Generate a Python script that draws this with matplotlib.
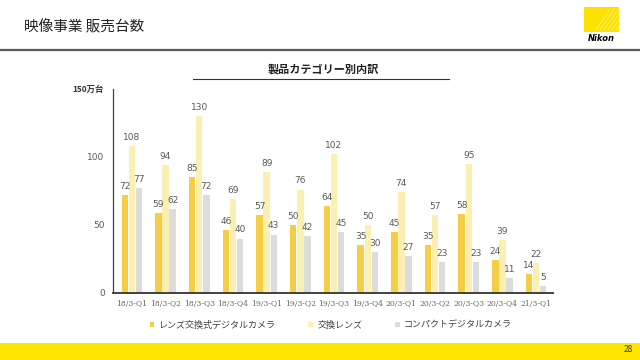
import numpy as np
import matplotlib
matplotlib.use("Agg")
import matplotlib.pyplot as plt
from matplotlib.patches import Rectangle

plt.rcParams['font.family'] = ['Noto Sans CJK JP', 'DejaVu Sans']

# data (万台)
quarters = ['18/3-Q1', '18/3-Q2', '18/3-Q3', '18/3-Q4', '19/3-Q1', '19/3-Q2', '19/3-Q3',
            '19/3-Q4', '20/3-Q1', '20/3-Q2', '20/3-Q3', '20/3-Q4', '21/3-Q1']
ilc = [72, 59, 85, 46, 57, 50, 64, 35, 45, 35, 58, 24, 14]
lenses = [108, 94, 130, 69, 89, 76, 102, 50, 74, 57, 95, 39, 22]
compact = [77, 62, 72, 40, 43, 42, 45, 30, 27, 23, 23, 11, 5]
series_names = ['レンズ交換式デジタルカメラ', '交換レンズ', 'コンパクトデジタルカメラ']
colors = ['#F5CE45', '#FCEFB3', '#DCDCDC']

fig = plt.figure(figsize=(6.4, 3.6), dpi=100)
fig.patch.set_facecolor('white')

# header / footer decorations
fig.text(24 / 640, 1 - 27 / 360, '映像事業 販売台数', fontsize=10.5, color='#222222', va='center', ha='left')
fig.add_artist(plt.Line2D([0, 1], [1 - 49.5 / 360] * 2, color='#5a5a5a', lw=1.6, transform=fig.transFigure))
fig.add_artist(Rectangle((0, 0), 1, 17 / 360, transform=fig.transFigure, color='#FFE600', lw=0))
fig.text(628 / 640, 1 - 350 / 360, '28', fontsize=6, color='#333333', ha='center', va='center')

# logo
logo = Rectangle((584 / 640, 1 - 32 / 360), 35 / 640, 25 / 360, transform=fig.transFigure,
                 color='#FFE100', lw=0)
fig.add_artist(logo)
for k in range(7):
    x0 = 596 + k * 4
    ln = plt.Line2D([x0 / 640, (x0 + 14) / 640], [1 - 30 / 360, 1 - 9 / 360], color='#FFF27A',
                    lw=0.6, transform=fig.transFigure)
    ln.set_clip_path(logo)
    fig.add_artist(ln)
fig.text(601 / 640, 1 - 38.5 / 360, 'Nikon', fontsize=6, color='black', ha='center', va='center',
         fontweight='bold', style='italic', family='DejaVu Sans')

# subtitle
fig.text(323 / 640, 1 - 69 / 360, '製品カテゴリー別内訳', fontsize=8, fontweight='bold', color='#222222',
         ha='center', va='center')
fig.add_artist(plt.Line2D([193 / 640, 449 / 640], [1 - 79 / 360] * 2, color='#333333', lw=0.8,
                          transform=fig.transFigure))

ax = fig.add_axes([113 / 640, 1 - 293 / 360, 440 / 640, 204 / 360])
x = np.arange(len(quarters))
w = 0.19
off = 0.21
handles = []
for i, (vals, c) in enumerate(zip([ilc, lenses, compact], colors)):
    bars = ax.bar(x + (i - 1) * off, vals, width=w, color=c, label=series_names[i], zorder=2)
    handles.append(bars)
    for xi, v in zip(x + (i - 1) * off, vals):
        ax.annotate(str(v), (xi, v), xytext=(0, 3), textcoords='offset points', ha='center', va='bottom',
                    fontsize=6.5, color='#595959', family='DejaVu Sans')

ax.set_xlim(-0.56, 12.5)
ax.set_ylim(0, 150)
ax.set_yticks([0, 50, 100])
ax.set_yticklabels(['0', '50', '100'], fontsize=6.5, color='#595959', family='DejaVu Sans')
ax.set_xticks(x)
ax.set_xticklabels(quarters, fontsize=5.5, color='#666666', family='DejaVu Serif')
ax.tick_params(axis='both', length=0)
ax.tick_params(axis='y', pad=6)
ax.tick_params(axis='x', pad=5)
for s in ['top', 'right']:
    ax.spines[s].set_visible(False)
ax.spines['left'].set_color('#404040')
ax.spines['left'].set_linewidth(0.9)
ax.spines['bottom'].set_color('#333333')
ax.spines['bottom'].set_linewidth(1.3)
ax.text(-0.02, 1.0, '150万台', transform=ax.transAxes, fontsize=6, fontweight='bold', color='#333333',
        ha='right', va='center')

fig.legend(handles=handles, labels=series_names, loc='center', bbox_to_anchor=(331 / 640, 1 - 325 / 360),
           ncol=3, frameon=False, fontsize=6.5, handlelength=0.5, handleheight=0.5, handletextpad=0.5,
           columnspacing=3.6, labelcolor='#404040')

fig.savefig('out.png', dpi=100)
